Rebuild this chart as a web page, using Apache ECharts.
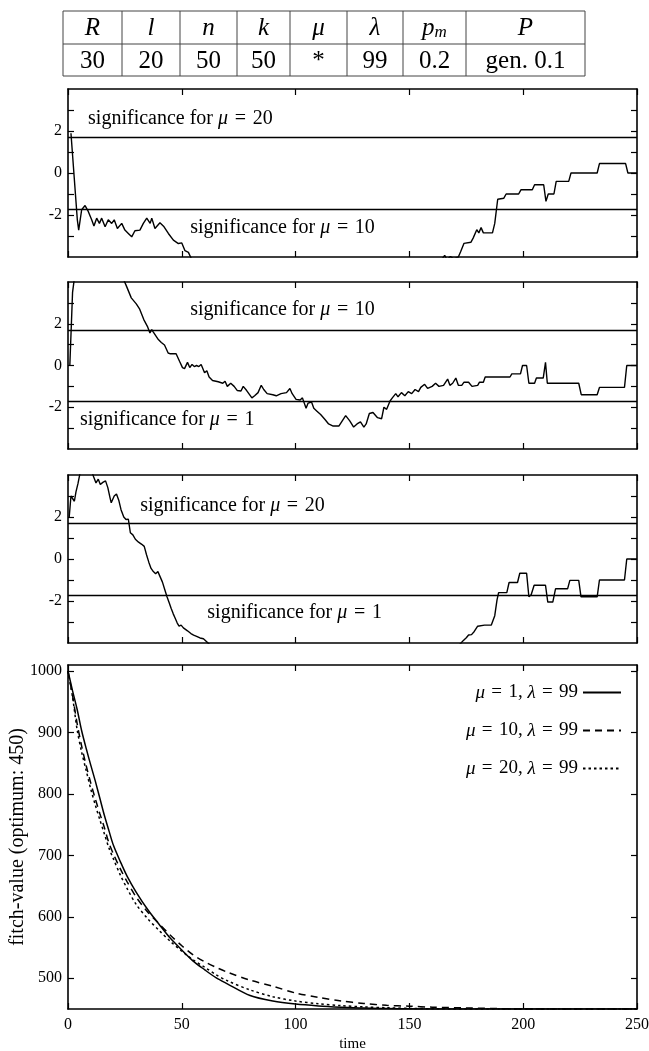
<!DOCTYPE html>
<html>
<head>
<meta charset="utf-8">
<script src="https://cdn.jsdelivr.net/npm/echarts@6/dist/echarts.min.js"></script>
<style>
html, body { margin: 0; padding: 0; background: #fff; }
#chart { width: 649px; height: 1051px; }
</style>
</head>
<body>
<div id="chart"></div>
<script>
// ---- run parameters (table) ----
const paramHeaders = ['R', 'l', 'n', 'k', 'μ', 'λ', 'p_m', 'P'];
const paramValues = ['30', '20', '50', '50', '*', '99', '0.2', 'gen. 0.1'];

// ---- significance statistic over time, [generation, value] ----
const sigRun1 = [
  [1.3, 1.89], [4.1, -2.23], [4.7, -2.72], [6.0, -1.75], [7.5, -1.55], [8.9, -1.83], [10.4, -2.23],
  [11.4, -2.52], [12.6, -2.15], [13.8, -2.4], [14.8, -2.15], [16.3, -2.56], [17.7, -2.23], [19.2, -2.4],
  [20.3, -2.23], [21.7, -2.64], [23.6, -2.4], [25, -2.72], [26.5, -2.88], [28, -3.04], [29.4, -2.75],
  [31.6, -2.72], [33.1, -2.4], [34.6, -2.15], [36.1, -2.4], [36.8, -2.15], [38.2, -2.64], [40.4, -2.37],
  [42.2, -2.56], [44.1, -2.88], [46.3, -3.2], [48.5, -3.36], [50, -3.33], [51.4, -3.7], [52.9, -3.78],
  [54.3, -4.1], [57, -4.5], [65, -5.2], [80, -5.8], [100, -6.2], [120, -6.0], [140, -5.6], [155, -4.8],
  [162, -4.3], [164, -4.15], [165.5, -3.92], [166.5, -4.12], [168, -3.98], [169.5, -4.08], [171.5, -4.0],
  [172.5, -3.75], [174, -3.35], [177, -3.3], [178, -3.1], [179.6, -2.7], [180.5, -2.85], [181.5, -2.6],
  [182.5, -2.85], [186.5, -2.85], [187.5, -2.4], [188.8, -1.25], [191.5, -1.2], [192.5, -1.0], [198, -1.0],
  [199, -0.8], [204, -0.8], [205, -0.56], [209, -0.56], [210, -1.35], [211, -1.0], [213.5, -1.0],
  [214.5, -0.4], [220, -0.4], [221, 0], [232.5, 0], [233.5, 0.45], [245, 0.45], [246, 0], [250, 0]
];
const sigRun2 = [
  [0.8, 0], [2.0, 3.5], [3.3, 4.6], [6, 6], [15, 6.5], [22, 5.0], [24.5, 4.1], [25.5, 3.85], [27.8, 3.24],
  [30, 2.95], [31.5, 2.7], [33.3, 2.2], [35, 1.85], [36, 1.56], [36.8, 1.72], [37.5, 1.6], [39.7, 1.24],
  [41, 1.1], [42.4, 0.98], [44, 0.6], [45, 0.56], [47.5, 0.56], [49, 0.2], [50.3, -0.1], [51.2, -0.15],
  [52.5, 0.15], [53.5, -0.1], [54.5, 0.05], [55.5, -0.05], [56.5, 0.0], [57.5, -0.05], [58.5, 0.05],
  [60, -0.35], [61, -0.25], [62, -0.55], [63.5, -0.72], [66, -0.78], [68, -0.85], [69, -0.75], [70, -1.0],
  [71.5, -0.85], [73, -1.0], [74.4, -1.2], [76, -1.22], [77, -1.0], [78.5, -1.2], [80.8, -1.55],
  [82, -1.45], [83.5, -1.3], [84.9, -0.95], [86, -1.15], [87.5, -1.35], [90, -1.4], [91.5, -1.45],
  [93.6, -1.35], [96, -1.3], [97.5, -1.1], [98.5, -1.35], [100.2, -1.62], [102, -1.65], [103, -1.55],
  [104.6, -2.05], [105.5, -1.8], [107, -1.75], [108, -2.05], [109.5, -2.2], [111, -2.35], [113, -2.6],
  [114.5, -2.8], [116.5, -2.9], [119, -2.9], [120.5, -2.65], [122, -2.4], [123.8, -2.65], [125.5, -2.95],
  [127, -2.8], [128.5, -2.7], [130, -2.95], [131, -2.8], [132.4, -2.3], [134, -2.25], [136, -2.5],
  [137.8, -2.55], [138.8, -2.0], [140, -2.1], [141.5, -1.7], [142.5, -1.55], [144, -1.35], [145, -1.5],
  [146.5, -1.3], [148, -1.45], [149.5, -1.25], [151, -1.35], [152.5, -1.15], [154, -1.25], [155, -1.05],
  [156.7, -0.9], [158, -1.1], [160, -1.0], [161.5, -0.85], [163, -1.0], [165, -0.95], [166.8, -0.65],
  [167.8, -0.95], [169, -0.85], [170.4, -0.6], [171.5, -0.95], [173, -0.95], [174, -0.8], [176, -0.8],
  [177.5, -1.0], [180, -0.95], [180.8, -0.8], [182.5, -0.8], [183.3, -0.55], [194.2, -0.55], [195, -0.4],
  [198.8, -0.4], [199.7, 0], [201.5, 0], [202.5, -0.85], [205, -0.85], [205.8, -0.6], [208.8, -0.6],
  [209.8, 0.15], [210.6, -0.85], [224.4, -0.85], [225.5, -1.4], [232.5, -1.4], [233.5, -1.05],
  [244.5, -1.05], [245.5, 0], [250, 0]
];
const sigRun3 = [
  [0.5, 1.95], [1.3, 3.0], [2.0, 2.95], [2.8, 2.75], [3.5, 3.2], [4.4, 3.6], [5.3, 4.1], [7, 4.6],
  [9, 4.5], [10.5, 4.15], [11.3, 3.9], [12.3, 3.62], [13.3, 3.8], [14.2, 3.55], [15.3, 3.65], [16.5, 3.72],
  [17.5, 3.4], [18.5, 2.9], [19, 2.68], [20.3, 3.0], [21.3, 3.1], [22.3, 2.8], [23.3, 2.35], [24.5, 2.0],
  [25.5, 1.88], [26.5, 1.9], [27.4, 1.25], [28.5, 1.15], [29.6, 0.94], [31, 0.8], [32.4, 0.7], [33.5, 0.6],
  [34.5, 0.2], [35.5, -0.15], [36.5, -0.45], [37.5, -0.6], [38.5, -0.7], [39.5, -0.6], [40.5, -0.85],
  [41.5, -1.1], [42.5, -1.45], [43.5, -1.8], [44.5, -2.1], [45.3, -2.35], [46.2, -2.6], [47, -2.8],
  [48, -3.05], [48.8, -3.2], [49.7, -3.15], [50.7, -3.28], [51.5, -3.25], [52.5, -3.42], [54, -3.55],
  [55.2, -3.62], [56.5, -3.68], [58, -3.76], [59.5, -3.8], [60.7, -3.92], [62, -4.05], [65, -4.4],
  [80, -5.3], [100, -5.9], [120, -6.0], [140, -5.7], [160, -5.0], [170, -4.3], [172.5, -4.02],
  [173.5, -3.9], [175, -3.75], [176, -3.62], [177.3, -3.6], [178.5, -3.45], [180, -3.2], [183, -3.15],
  [186, -3.14], [187.5, -2.7], [188.5, -1.95], [189.2, -1.6], [192.8, -1.6], [193.8, -1.12],
  [197.5, -1.12], [198.5, -0.68], [201.5, -0.68], [202.5, -1.8], [203.5, -1.7], [204.8, -1.25],
  [209.8, -1.25], [210.8, -2.05], [213, -2.05], [214.2, -1.42], [219.5, -1.42], [220.5, -1.02],
  [224.4, -1.02], [225.4, -1.8], [232.5, -1.8], [233.5, -1.0], [244.5, -1.0], [245.5, 0], [250, 0]
];
const sigLevels = [1.7, -1.73];
const sigTexts = [
  ['significance for μ = 20', 'significance for μ = 10'],
  ['significance for μ = 10', 'significance for μ = 1'],
  ['significance for μ = 20', 'significance for μ = 1']
];
const sigTickLabels = [-2, 0, 2];
const sigTicks = [-3, -2, -1, 0, 1, 2, 3];

// ---- fitness value over time ----
const fitTime  = [0, 2, 4, 6, 8, 10, 12, 14, 16, 18, 20, 23, 26, 30, 35, 40, 45, 50, 55, 60, 65, 70, 80, 90, 100, 110, 120, 130, 140, 150, 160, 175, 190, 200, 250];
const fitMu1   = [1000, 968, 938, 903, 874, 847, 821, 793, 765, 740, 716, 690, 666, 640, 612, 588, 565, 546, 528, 514, 501, 491, 472, 463, 458, 455, 453, 451.5, 450.8, 450.3, 450, 450, 450, 450, 450];
const fitMu10  = [1000, 960, 915, 878, 846, 818, 792, 768, 745, 720, 702, 678, 657, 632, 608, 589, 570, 553, 538, 527, 518, 510, 497, 487, 476, 469, 463, 459, 456, 454.5, 453, 451.8, 450.5, 450, 450];
const fitMu20  = [1000, 958, 905, 868, 838, 808, 782, 758, 735, 712, 694, 668, 646, 620, 597, 578, 560, 544, 530, 518, 506, 496, 481, 470, 463, 458.5, 455.5, 453.5, 452, 451, 450.5, 450, 450, 450, 450];
const fitNames = ['μ = 1, λ = 99', 'μ = 10, λ = 99', 'μ = 20, λ = 99'];
const fitTickLabels = [500, 600, 700, 800, 900, 1000];
const timeTicks = [0, 50, 100, 150, 200, 250];

// ---- layout ----
const FONT = "'Liberation Serif', 'Times New Roman', serif";
const sigGrids = [{ top: 89, height: 168 }, { top: 282, height: 167 }, { top: 475, height: 168 }];
const fitGrid = { top: 665, height: 344 };
const plotLeft = 68, plotRight = 12;
// anchor of each annotation (left end of the text) in data coordinates
const sigTextAnchors = [
  [[8.6, 2.6], [53.5, -2.6]],
  [[53.5, 2.65], [5.0, -2.6]],
  [[31.5, 2.55], [61.0, -2.55]]
];
const tableCols = [63, 122, 180, 237, 290, 347, 403, 466, 585];
const tableRows = [11, 44, 76];

const SP = '\u2004';
// math-style text: italic Greek letters, wider spacing around '='
const mathify = s => s.replace(/ = /g, SP + '=' + SP).replace(/([μλ])/g, '{m|$1}');
const mathRich = size => ({ m: { fontStyle: 'italic', fontFamily: FONT, fontSize: size, color: '#000' } });

const axisLineStyle = { show: true, onZero: false, lineStyle: { color: '#000', width: 1.6 } };
const tickStyle = { inside: true, length: 6, lineStyle: { color: '#000', width: 1.2 } };

const grids = [], xAxes = [], yAxes = [], series = [];

function addFrame(g, gi, isFit) {
  grids.push({ left: plotLeft, right: plotRight, top: g.top, height: g.height, containLabel: false, outerBoundsMode: 'none' });
  const xBase = {
    type: 'value', gridIndex: gi, min: 0, max: 250,
    axisLine: axisLineStyle, splitLine: { show: false },
    axisTick: Object.assign({ customValues: timeTicks }, tickStyle)
  };
  xAxes.push(Object.assign({}, xBase, {
    position: 'bottom',
    axisLabel: isFit
      ? { show: true, customValues: timeTicks, formatter: v => String(v), fontFamily: FONT, fontSize: 16, color: '#000', margin: 8 }
      : { show: false },
    name: isFit ? 'time' : '', nameLocation: 'middle', nameGap: 28, nameMoveOverlap: false,
    nameTextStyle: { fontFamily: FONT, fontSize: 15, color: '#000' }
  }));
  xAxes.push(Object.assign({}, xBase, { position: 'top', axisLabel: { show: false } }));
  const yMin = isFit ? 450 : -4, yMax = isFit ? 1010 : 4;
  const ticks = isFit ? fitTickLabels : sigTicks;
  const labels = isFit ? fitTickLabels : sigTickLabels;
  const yBase = {
    type: 'value', gridIndex: gi, min: yMin, max: yMax,
    axisLine: axisLineStyle, splitLine: { show: false },
    axisTick: Object.assign({ customValues: ticks }, tickStyle)
  };
  yAxes.push(Object.assign({}, yBase, {
    position: 'left',
    axisLabel: { show: true, customValues: labels, formatter: v => String(v), fontFamily: FONT, fontSize: 16, color: '#000', margin: 6 },
    name: isFit ? 'fitch-value (optimum: 450)' : '', nameLocation: 'middle', nameGap: 40, nameRotate: 90,
    nameMoveOverlap: false,
    nameTextStyle: { fontFamily: FONT, fontSize: 20, color: '#000' }
  }));
  yAxes.push(Object.assign({}, yBase, { position: 'right', axisLabel: { show: false } }));
}

const sigRuns = [sigRun1, sigRun2, sigRun3];
sigGrids.forEach((g, i) => {
  addFrame(g, i, false);
  series.push({
    type: 'line', xAxisIndex: 2 * i, yAxisIndex: 2 * i, data: sigRuns[i],
    symbol: 'none', showSymbol: false, clip: true, silent: true, animation: false,
    lineStyle: { color: '#000', width: 1.4 },
    markLine: {
      silent: true, symbol: 'none', animation: false,
      label: { show: false },
      lineStyle: { color: '#000', width: 1.4, type: 'solid' },
      data: sigLevels.map(v => ({ yAxis: v }))
    },
    markPoint: {
      silent: true, animation: false, symbol: 'circle', symbolSize: 1,
      itemStyle: { color: 'rgba(0,0,0,0)' },
      data: sigTexts[i].map((t, j) => ({
        coord: sigTextAnchors[i][j],
        label: {
          show: true, position: 'right', distance: 0, formatter: mathify(t),
          fontFamily: FONT, fontSize: 20, color: '#000', rich: mathRich(20)
        }
      }))
    }
  });
});

addFrame(fitGrid, 3, true);
const fitSeries = [fitMu1, fitMu10, fitMu20];
const fitDash = ['solid', [7, 5], [2.5, 3]];
fitSeries.forEach((vals, k) => {
  series.push({
    name: fitNames[k], type: 'line', xAxisIndex: 6, yAxisIndex: 6,
    data: fitTime.map((t, j) => [t, vals[j]]),
    symbol: 'none', showSymbol: false, smooth: 0.3, clip: true, silent: true, animation: false,
    lineStyle: { color: '#000', width: 1.5, type: fitDash[k] },
    itemStyle: { color: '#000' }
  });
});

// table drawn as graphic elements
const tableGraphics = [];
const tLine = { stroke: '#444', lineWidth: 1 };
tableRows.forEach(y => tableGraphics.push({
  type: 'line', shape: { x1: tableCols[0], y1: y, x2: tableCols[tableCols.length - 1], y2: y }, style: tLine
}));
tableCols.forEach(x => tableGraphics.push({
  type: 'line', shape: { x1: x, y1: tableRows[0], x2: x, y2: tableRows[2] }, style: tLine
}));
const headRich = {
  i: { fontStyle: 'italic', fontFamily: FONT, fontSize: 25, color: '#000' },
  s: { fontStyle: 'italic', fontFamily: FONT, fontSize: 17, color: '#000', padding: [9, 0, 0, 0] }
};
paramHeaders.forEach((h, c) => {
  const cx = (tableCols[c] + tableCols[c + 1]) / 2;
  const txt = h.includes('_') ? '{i|' + h.split('_')[0] + '}{s|' + h.split('_')[1] + '}' : '{i|' + h + '}';
  tableGraphics.push({
    type: 'text', x: cx, y: (tableRows[0] + tableRows[1]) / 2 + 1,
    style: { text: txt, rich: headRich, align: 'center', verticalAlign: 'middle', font: 'italic 25px ' + FONT, fill: '#000' }
  });
  tableGraphics.push({
    type: 'text', x: cx, y: (tableRows[1] + tableRows[2]) / 2 + 1,
    style: { text: paramValues[c], align: 'center', verticalAlign: 'middle', font: '25px ' + FONT, fill: '#000' }
  });
});

const option = {
  animation: false,
  backgroundColor: '#fff',
  grid: grids,
  xAxis: xAxes,
  yAxis: yAxes,
  legend: {
    data: fitNames, orient: 'vertical', right: 22, top: 678, align: 'right',
    itemWidth: 38, itemHeight: 14, itemGap: 19, selectedMode: false,
    itemStyle: { color: 'rgba(0,0,0,0)', borderWidth: 0, opacity: 0 },
    formatter: mathify,
    textStyle: { fontFamily: FONT, fontSize: 19, color: '#000', rich: mathRich(19) }
  },
  graphic: tableGraphics,
  series: series
};

const chart = echarts.init(document.getElementById('chart'), null, { renderer: 'canvas' });
chart.setOption(option);
</script>
</body>
</html>
